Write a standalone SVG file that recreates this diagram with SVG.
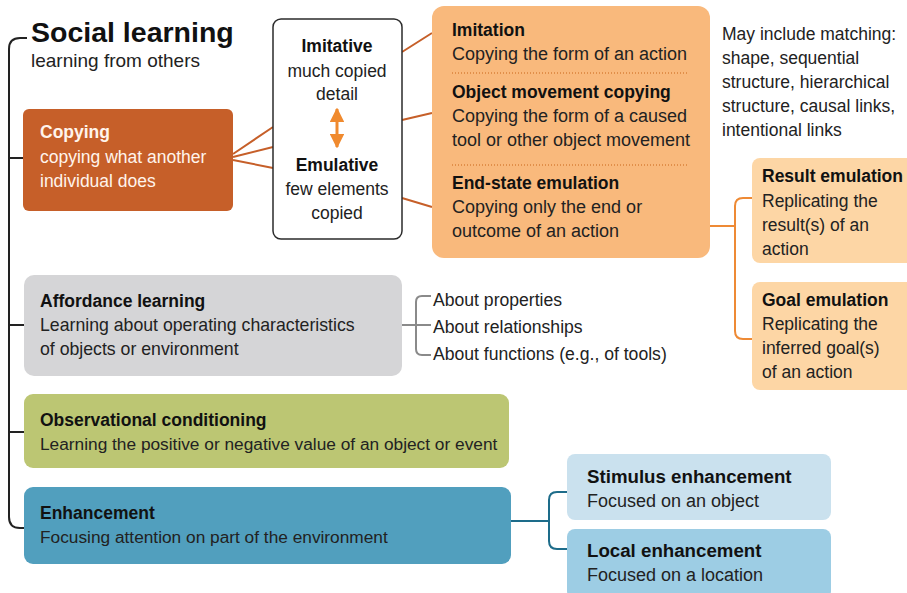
<svg xmlns="http://www.w3.org/2000/svg" width="907" height="593" viewBox="0 0 907 593">
<style>
text{font-family:"Liberation Sans",Arial,sans-serif;}
.h{font-weight:bold;font-size:17.5px;fill:#111;}
.b{font-size:17.3px;fill:#222;}
.o{font-size:18px;fill:#222;}
.w{fill:#FFF4EC;}
.c{text-anchor:middle;}
.ln{fill:none;stroke-width:2;}
</style>
<defs>
<marker id="ah" viewBox="0 0 10 10" refX="9" refY="5" markerWidth="4.8" markerHeight="4.8" orient="auto-start-reverse" markerUnits="strokeWidth">
<path d="M0 0 L10 5 L0 10 Z" fill="#F08A2E"/>
</marker>
</defs>
<rect width="907" height="593" fill="#fff"/>

<g id="connectors">
<path class="ln" d="M27 38 H20 Q9 38 9 49 V517 Q9 528 20 528 H24" stroke="#222"/>
<path class="ln" d="M9 158 H23 M9 325 H24 M9 432 H24" stroke="#222"/>
<path class="ln" d="M233 154 L273 127 M233 157 L273 147 M233 160 L273 168" stroke="#C65F29" stroke-width="2.5"/>
<path class="ln" d="M402 52 L432 33 M402 120 L432 113 M402 198 L432 207" stroke="#C65F29" stroke-width="2.5"/>
<path class="ln" d="M710 226 H735 M752 198 H743 Q735 198 735 206 V331 Q735 339 743 339 H752" stroke="#EE8A35"/>
<path class="ln" d="M402 325 H431 M431 296 H422 Q416 296 416 302 V349 Q416 355 422 355 H431" stroke="#8A8A8A" stroke-width="1.5"/>
<path class="ln" d="M511 521 H549 M567 492 H557 Q549 492 549 500 V541 Q549 549 557 549 H567" stroke="#1D6C8A"/>
</g>

<g id="title">
<text x="31" y="42" style="font-weight:bold;font-size:28.5px;fill:#111">Social learning</text>
<text x="31" y="67" style="font-size:19px;fill:#222">learning from others</text>
</g>

<g id="copying">
<rect x="23" y="109" width="210" height="102" rx="6" fill="#C65F29"/>
<text x="40" y="138" class="h w">Copying</text>
<text x="40" y="163" class="b w" style="font-size:17.5px">copying what another</text>
<text x="40" y="187" class="b w" style="font-size:17.5px">individual does</text>
</g>

<g id="imitative-emulative">
<rect x="273" y="19" width="129" height="220" rx="8" fill="#fff" stroke="#2B2B2B" stroke-width="1.5"/>
<text x="337" y="52" class="h c">Imitative</text>
<text x="337" y="77" class="b c" style="font-size:17.5px">much copied</text>
<text x="337" y="100" class="b c" style="font-size:17.5px">detail</text>
<line x1="337" y1="109" x2="337" y2="147" stroke="#F08A2E" stroke-width="3" marker-start="url(#ah)" marker-end="url(#ah)"/>
<text x="337" y="171" class="h c">Emulative</text>
<text x="337" y="195" class="b c" style="font-size:17.5px">few elements</text>
<text x="337" y="219" class="b c" style="font-size:17.5px">copied</text>
</g>

<g id="copying-types">
<rect x="432" y="6" width="278" height="252" rx="12" fill="#F9B97C"/>
<text x="452" y="36" class="h">Imitation</text>
<text x="452" y="60" class="o">Copying the form of an action</text>
<line x1="452" y1="73" x2="687" y2="73" stroke="#D9813A" stroke-width="1.3" stroke-dasharray="1 2"/>
<text x="452" y="98" class="h">Object movement copying</text>
<text x="452" y="122" class="o">Copying the form of a caused</text>
<text x="452" y="146" class="o">tool or other object movement</text>
<line x1="452" y1="165" x2="687" y2="165" stroke="#D9813A" stroke-width="1.3" stroke-dasharray="1 2"/>
<text x="452" y="189" class="h">End-state emulation</text>
<text x="452" y="213" class="o">Copying only the end or</text>
<text x="452" y="237" class="o">outcome of an action</text>
</g>

<g id="matching-note">
<text x="722" y="40" class="b" style="font-size:17.5px">May include matching:</text>
<text x="722" y="64" class="b" style="font-size:17.5px">shape, sequential</text>
<text x="722" y="88" class="b" style="font-size:17.5px">structure, hierarchical</text>
<text x="722" y="112" class="b" style="font-size:17.5px">structure, causal links,</text>
<text x="722" y="136" class="b" style="font-size:17.5px">intentional links</text>
</g>

<g id="result-emulation">
<rect x="752" y="158" width="170" height="105" rx="8" fill="#FDD6A5"/>
<text x="762" y="182" class="h">Result emulation</text>
<text x="762" y="207" class="b" style="font-size:17.5px">Replicating the</text>
<text x="762" y="231" class="b" style="font-size:17.5px">result(s) of an</text>
<text x="762" y="255" class="b" style="font-size:17.5px">action</text>
</g>

<g id="goal-emulation">
<rect x="752" y="282" width="170" height="108" rx="8" fill="#FDD6A5"/>
<text x="762" y="306" class="h">Goal emulation</text>
<text x="762" y="330" class="b" style="font-size:17.5px">Replicating the</text>
<text x="762" y="354" class="b" style="font-size:17.5px">inferred goal(s)</text>
<text x="762" y="378" class="b" style="font-size:17.5px">of an action</text>
</g>

<g id="affordance">
<rect x="24" y="275" width="378" height="101" rx="10" fill="#D5D5D7"/>
<text x="40" y="307" class="h">Affordance learning</text>
<text x="40" y="331" class="b" style="font-size:17.7px">Learning about operating characteristics</text>
<text x="40" y="355" class="b" style="font-size:17.7px">of objects or environment</text>
</g>

<g id="affordance-list">
<text x="433" y="306" class="b" style="font-size:17.6px">About properties</text>
<text x="433" y="333" class="b" style="font-size:17.6px">About relationships</text>
<text x="433" y="360" class="b" style="font-size:17.6px">About functions (e.g., of tools)</text>
</g>

<g id="observational">
<rect x="24" y="394" width="485" height="74" rx="9" fill="#BCC673"/>
<text x="40" y="426" class="h">Observational conditioning</text>
<text x="40" y="450" class="b">Learning the positive or negative value of an object or event</text>
</g>

<g id="enhancement">
<rect x="24" y="487" width="487" height="77" rx="9" fill="#519FBE"/>
<text x="40" y="519" class="h">Enhancement</text>
<text x="40" y="543" class="b">Focusing attention on part of the environment</text>
</g>

<g id="stimulus">
<rect x="567" y="454" width="264" height="66" rx="8" fill="#CAE1EE"/>
<text x="587" y="483" class="h" style="font-size:18.7px">Stimulus enhancement</text>
<text x="587" y="507" class="o">Focused on an object</text>
</g>

<g id="local">
<rect x="567" y="529" width="264" height="70" rx="8" fill="#9DCDE4"/>
<text x="587" y="557" class="h" style="font-size:18.7px">Local enhancement</text>
<text x="587" y="581" class="o">Focused on a location</text>
</g>
</svg>
